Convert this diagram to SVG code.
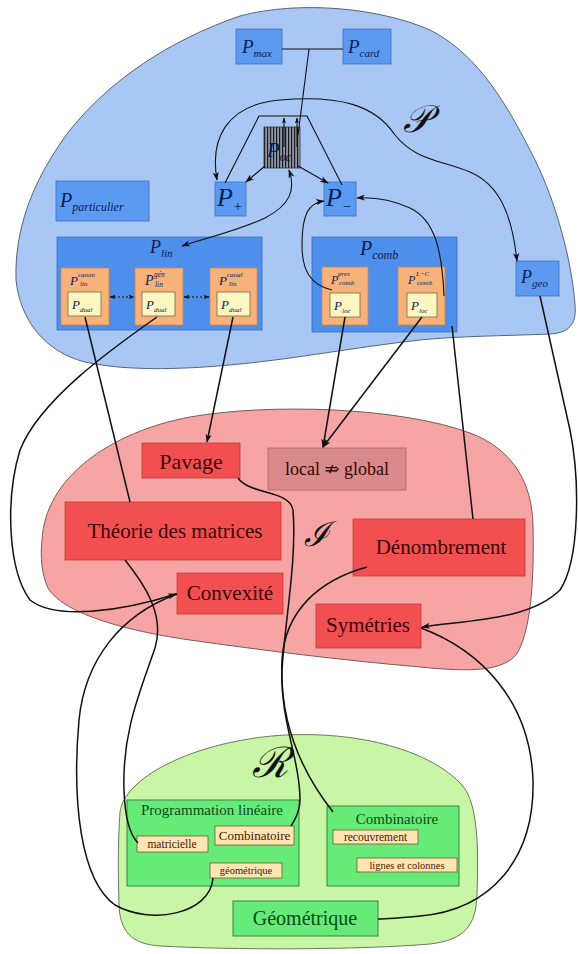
<svg xmlns="http://www.w3.org/2000/svg" width="578" height="954" viewBox="0 0 578 954">
<defs>
<style>
text{font-family:"Liberation Serif","DejaVu Serif",serif}
.pi{font-style:italic;fill:#0d1d50}
.ss{font-style:italic;fill:#0d1d50}
.blobP{fill:#a9c7f4;stroke:#56657a;stroke-width:1}
.blobI{fill:#f7a4a4;stroke:#7a5a5a;stroke-width:1}
.blobR{fill:#c8f5a6;stroke:#6a7a5a;stroke-width:1}
.bn{fill:#5b9af0;stroke:#3f70c4;stroke-width:0.8}
.bbig{fill:#4d8fea;stroke:#3a6cc0;stroke-width:0.8}
.or{fill:#f7b27c;stroke:#d08650;stroke-width:0.8}
.cr{fill:#fbf6c2;stroke:#7a6a3a;stroke-width:0.8}
.rn{fill:#f25050;stroke:#c23a3a;stroke-width:0.8}
.rl{fill:#d98a8a;stroke:#b06565;stroke-width:0.8}
.rt{fill:#3a0505;text-anchor:middle}
.gb{fill:#66ea78;stroke:#2f7a3a;stroke-width:0.9}
.gt{fill:#0b4a18;text-anchor:middle}
.sc{fill:#fde5b4;stroke:#7a5a2a;stroke-width:0.8}
.st{fill:#4a1800;text-anchor:middle}
.ln{fill:none;stroke:#111;stroke-width:1.5}
.lt{fill:none;stroke:#111;stroke-width:1.1}
.ld{fill:none;stroke:#111;stroke-width:1;stroke-dasharray:2 2}
.big{font-style:italic;fill:#111}
</style>
<pattern id="hatch" width="3" height="10" patternUnits="userSpaceOnUse"><rect width="3" height="10" fill="#9098a8"/><rect width="1.2" height="10" fill="#1a1a1a"/></pattern>
<marker id="ah" viewBox="0 0 10 8" refX="9" refY="4" markerWidth="9" markerHeight="7" orient="auto-start-reverse" markerUnits="userSpaceOnUse"><path d="M0,0.5 L10,4 L0,7.5 L2.5,4 z" fill="#111"/></marker>
<marker id="as" viewBox="0 0 10 8" refX="9" refY="4" markerWidth="6" markerHeight="5" orient="auto-start-reverse" markerUnits="userSpaceOnUse"><path d="M0,0.5 L10,4 L0,7.5 L2.5,4 z" fill="#111"/></marker>
</defs>

<g id="regions">
<path id="region-P" class="blobP" d="M 16,280 C 14,220 40,170 70,130 C 110,80 170,40 240,16 C 300,0 380,8 430,30 C 480,55 510,110 535,160 C 555,200 572,260 575,305 C 577,325 568,333 550,334 C 500,336 460,336 420,340 C 350,348 300,358 240,364 C 190,369 130,372 85,362 C 45,352 20,320 16,280 Z"/>
<path id="region-I" class="blobI" d="M 42,540 C 45,478 110,432 190,417 C 270,403 400,407 470,433 C 515,450 532,485 533,525 C 534,575 532,625 518,652 C 505,672 470,672 420,667 C 340,660 260,650 190,640 C 120,630 62,612 48,588 C 42,575 40,558 42,540 Z"/>
<path id="region-R" class="blobR" d="M 120,812 C 125,775 200,740 285,735 C 370,731 435,755 462,785 C 480,805 478,860 477,895 C 476,925 465,940 430,944 C 360,950 230,950 160,946 C 130,944 120,930 119,905 C 118,870 118,840 120,812 Z"/>
<text class="big" x="403" y="132" font-size="38">𝒫</text>
<text class="big" x="304" y="546" font-size="34">ℐ</text>
<text class="big" x="252" y="777" font-size="42">ℛ</text>
</g>

<g id="nodes">
<g id="n-pmax"><rect class="bn" x="236" y="29" width="46" height="35"/><text class="pi" x="242" y="53" font-size="19">P<tspan font-size="11" dy="4">max</tspan></text></g>
<g id="n-pcard"><rect class="bn" x="343" y="29" width="48" height="35"/><text class="pi" x="348" y="53" font-size="19">P<tspan font-size="11" dy="4">card</tspan></text></g>
<g id="n-poc"><rect x="264" y="127" width="36" height="41" fill="url(#hatch)" stroke="#333" stroke-width="0.8"/><text class="pi" x="267" y="157" font-size="21" fill="#111">P<tspan font-size="12" dy="4">oc</tspan></text></g>
<g id="n-pplus"><rect class="bn" x="215" y="182" width="31" height="34"/><text class="pi" x="217" y="206" font-size="26">P<tspan font-size="14" dy="5">+</tspan></text></g>
<g id="n-pminus"><rect class="bn" x="324" y="182" width="32" height="34"/><text class="pi" x="326" y="206" font-size="26">P<tspan font-size="14" dy="5">−</tspan></text></g>
<g id="n-ppart"><rect class="bn" x="56" y="181" width="93" height="40"/><text class="pi" x="60" y="207" font-size="20">P<tspan font-size="12" dy="4">particulier</tspan></text></g>
<g id="n-pgeo"><rect class="bn" x="516" y="261" width="43" height="35"/><text class="pi" x="521" y="283" font-size="18">P<tspan font-size="11" dy="4">geo</tspan></text></g>

<g id="n-plin">
<rect class="bbig" x="57" y="237" width="205" height="93"/>
<text class="pi" x="150" y="253" font-size="18">P<tspan font-size="11" dy="4">lin</tspan></text>
<g id="n-plin-canon"><rect class="or" x="61" y="268" width="48" height="57"/><text class="pi" x="70" y="285" font-size="13">P</text><text class="ss" x="78" y="277" font-size="7">canon</text><text class="ss" x="80" y="286" font-size="7">lin</text>
<rect class="cr" x="68" y="292" width="33" height="24"/><text class="pi" x="72" y="309" font-size="13">P<tspan font-size="7" dy="3">dual</tspan></text></g>
<g id="n-plin-gen"><rect class="or" x="135" y="268" width="48" height="57"/><text class="pi" x="145" y="285" font-size="14">P</text><text class="ss" x="154" y="277" font-size="7.5">gén</text><text class="ss" x="155" y="287" font-size="7.5">lin</text>
<rect class="cr" x="142" y="292" width="33" height="24"/><text class="pi" x="146" y="309" font-size="13">P<tspan font-size="7" dy="3">dual</tspan></text></g>
<g id="n-plin-stand"><rect class="or" x="210" y="268" width="47" height="57"/><text class="pi" x="219" y="285" font-size="13">P</text><text class="ss" x="227" y="277" font-size="7">canal</text><text class="ss" x="229" y="286" font-size="7">lin</text>
<rect class="cr" x="217" y="292" width="33" height="24"/><text class="pi" x="221" y="309" font-size="13">P<tspan font-size="7" dy="3">dual</tspan></text></g>
</g>

<g id="n-pcomb">
<rect class="bbig" x="312" y="237" width="145" height="95"/>
<text class="pi" x="360" y="255" font-size="20">P<tspan font-size="12" dy="4">comb</tspan></text>
<g id="n-pcomb-pres"><rect class="or" x="322" y="267" width="46" height="58"/><text class="pi" x="331" y="284" font-size="12">P</text><text class="ss" x="338" y="276" font-size="7">pres</text><text class="ss" x="339" y="285" font-size="7">comb</text>
<rect class="cr" x="330" y="293" width="30" height="24"/><text class="pi" x="334" y="310" font-size="13">P<tspan font-size="7" dy="3">loc</tspan></text></g>
<g id="n-pcomb-lc"><rect class="or" x="398" y="267" width="47" height="58"/><text class="pi" x="408" y="284" font-size="12">P</text><text class="ss" x="416" y="276" font-size="7">L−C</text><text class="ss" x="417" y="285" font-size="7">comb</text>
<rect class="cr" x="407" y="293" width="30" height="24"/><text class="pi" x="411" y="310" font-size="13">P<tspan font-size="7" dy="3">loc</tspan></text></g>
</g>

<g id="n-pavage"><rect class="rn" x="142" y="443" width="98" height="35"/><text class="rt" x="191" y="469" font-size="22">Pavage</text></g>
<g id="n-local"><rect class="rl" x="268" y="448" width="138" height="42"/><text class="rt" x="337" y="475" font-size="18">local ⇏ global</text></g>
<g id="n-theorie"><rect class="rn" x="65" y="502" width="216" height="58"/><text class="rt" x="175" y="538" font-size="21">Théorie des matrices</text></g>
<g id="n-convexite"><rect class="rn" x="177" y="573" width="106" height="41"/><text class="rt" x="230" y="600" font-size="21">Convexité</text></g>
<g id="n-denombrement"><rect class="rn" x="353" y="519" width="172" height="57"/><text class="rt" x="441" y="554" font-size="21">Dénombrement</text></g>
<g id="n-symetries"><rect class="rn" x="316" y="604" width="105" height="44"/><text class="rt" x="368" y="632" font-size="21">Symétries</text></g>

<g id="n-proglin"><rect class="gb" x="127" y="800" width="172" height="86"/><text class="gt" x="212" y="815" font-size="15">Programmation linéaire</text>
<g id="n-matricielle"><rect class="sc" x="137" y="836" width="71" height="16"/><text class="st" x="172" y="848" font-size="11.5">matricielle</text></g>
<g id="n-pl-comb"><rect class="sc" x="215" y="826" width="79" height="19"/><text class="st" x="254.5" y="840" font-size="13">Combinatoire</text></g>
<g id="n-pl-geo"><rect class="sc" x="210" y="863" width="72" height="15"/><text class="st" x="246" y="874" font-size="10.5">géométrique</text></g>
</g>
<g id="n-combi"><rect class="gb" x="327" y="806" width="132" height="80"/><text class="gt" x="397" y="824" font-size="15">Combinatoire</text>
<g id="n-recouvrement"><rect class="sc" x="333" y="830" width="85" height="14"/><text class="st" x="375.5" y="841" font-size="11.5">recouvrement</text></g>
<g id="n-lignes"><rect class="sc" x="357" y="858" width="100" height="14"/><text class="st" x="407" y="869" font-size="10.5">lignes et colonnes</text></g>
</g>
<g id="n-geometrique"><rect class="gb" x="233" y="901" width="145" height="35"/><text class="gt" x="305" y="925" font-size="20">Géométrique</text></g>
</g>

<g id="connectors">
<path class="lt" d="M 282,49 L 343,49"/>
<path class="lt" d="M 309,49 L 298,135"/>
<path class="lt" d="M 284,147 L 284,118" marker-end="url(#as)"/>
<path class="lt" d="M 297,147 L 297,118" marker-end="url(#as)"/>
<path class="lt" d="M 225,183 L 259,116 L 307,116 L 342,185"/>
<path class="lt" d="M 265,166 L 246,182" marker-end="url(#ah)"/>
<path class="lt" d="M 298,166 L 328,183" marker-end="url(#ah)"/>
<path class="lt" d="M 217,180 C 210,140 225,105 280,100 C 340,95 375,105 395,135 C 415,160 440,160 470,172 C 500,185 512,215 517,261" marker-start="url(#ah)" marker-end="url(#ah)"/>
<path class="lt" d="M 289,170 C 296,190 290,205 265,218 C 235,232 205,238 182,246" marker-start="url(#ah)" marker-end="url(#ah)"/>
<path class="lt" d="M 332,290 C 310,285 302,270 302,245 C 302,215 308,203 324,201" marker-end="url(#ah)"/>
<path class="lt" d="M 444,296 C 442,250 435,220 410,208 C 390,199 372,197 357,198" marker-end="url(#ah)"/>
<path class="ld" d="M 110,297 L 134,297" marker-start="url(#as)" marker-end="url(#as)"/>
<path class="ld" d="M 184,297 L 209,297" marker-start="url(#as)" marker-end="url(#as)"/>
<path class="ln" d="M 345,317 L 323,447" marker-end="url(#ah)"/>
<path class="ln" d="M 422,317 L 323,447" marker-end="url(#ah)"/>
<path class="ln" d="M 233,317 L 207,442" marker-end="url(#ah)"/>
<path class="ln" d="M 85,317 L 130,502"/>
<path class="ln" d="M 157,317 C 110,350 40,400 20,450 C 5,500 8,570 30,600 C 55,620 120,612 176,594" marker-end="url(#ah)"/>
<path class="ln" d="M 452,326 L 473,519"/>
<path class="ln" d="M 540,296 L 570,430 C 580,480 580,560 560,590 C 530,620 470,620 422,627" marker-end="url(#ah)"/>
<path class="ln" d="M 238,478 C 250,495 290,490 293,510 C 297,560 285,620 282,670 C 280,720 300,760 300,800 C 300,812 295,820 291,826"/>
<path class="ln" d="M 125,560 C 145,585 165,615 155,648 C 140,692 122,732 124,790 C 125,820 130,835 138,843"/>
<path class="ln" d="M 177,594 C 120,615 85,660 79,720 C 72,800 80,880 115,905 C 150,925 210,915 213,878"/>
<path class="ln" d="M 367,567 C 320,580 285,610 282,660 C 279,720 300,770 333,812"/>
<path class="ln" d="M 421,628 C 480,650 530,700 533,780 C 535,860 490,910 420,916 C 400,918 390,919 378,919"/>
</g>
</svg>
